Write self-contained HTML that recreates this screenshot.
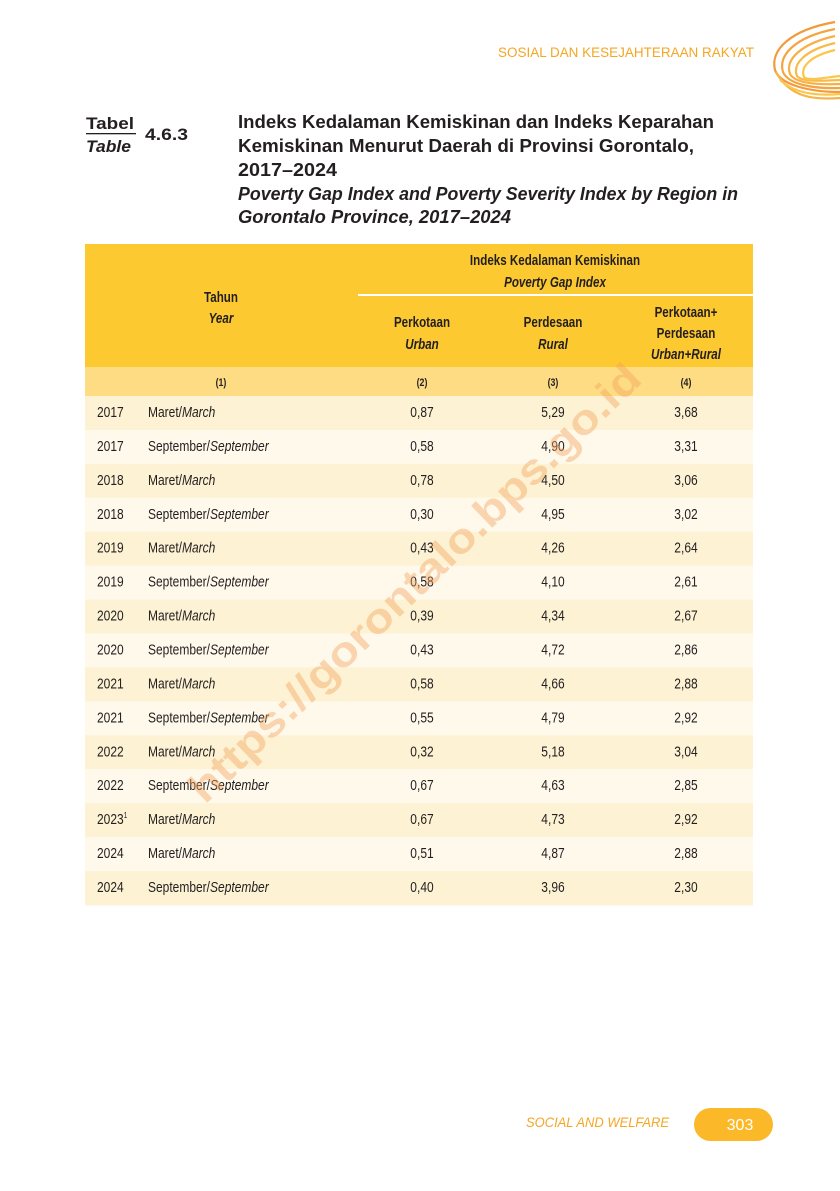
<!DOCTYPE html>
<html><head><meta charset="utf-8">
<style>
html,body{margin:0;padding:0;background:#fff;}
body{width:840px;height:1191px;overflow:hidden;position:relative;font-family:"Liberation Sans",sans-serif;}
svg{position:absolute;left:0;top:0;}
</style></head>
<body>
<svg id="pg" width="840" height="1191" viewBox="0 0 840 1191" font-family="Liberation Sans, sans-serif">
  <g fill="none" stroke-width="2.2">
    <path d="M835 22 C790 30 770 50 775 70 C780 85 810 92 840 92" stroke="#f39a3a"/>
    <path d="M835 29 C795 37 778 55 783 72 C788 84 812 89 840 88" stroke="#f5a540"/>
    <path d="M835 36 C800 44 785 60 790 74 C795 83 815 85 840 84" stroke="#f7b045"/>
    <path d="M835 43 C805 50 792 64 797 76 C802 82 818 81 840 80" stroke="#f9bb48"/>
    <path d="M835 50 C810 56 800 67 804 77 C808 81 822 78 840 76" stroke="#fbc64c"/>
    <path d="M776 72 C790 98 815 100 840 98" stroke="#f6b347"/>
    <path d="M780 80 C795 94 818 96 840 94" stroke="#fbc64c"/>
  </g>
  <text x="754" y="57" text-anchor="end" font-size="13.5" fill="#f5a623" textLength="256" lengthAdjust="spacingAndGlyphs">SOSIAL DAN KESEJAHTERAAN RAKYAT</text>

  <g font-weight="bold" fill="#231f20">
    <text x="86" y="129" font-size="17" textLength="48" lengthAdjust="spacingAndGlyphs">Tabel</text>
    <rect x="86" y="133" width="50" height="1.3" fill="#231f20"/>
    <text x="86" y="152" font-size="17" font-style="italic" textLength="45" lengthAdjust="spacingAndGlyphs">Table</text>
    <text x="145" y="140" font-size="17" textLength="43" lengthAdjust="spacingAndGlyphs">4.6.3</text>
  </g>
  <g font-weight="bold" fill="#231f20" font-size="18">
    <text x="238" y="128" textLength="476" lengthAdjust="spacingAndGlyphs">Indeks Kedalaman Kemiskinan dan Indeks Keparahan</text>
    <text x="238" y="152" textLength="456" lengthAdjust="spacingAndGlyphs">Kemiskinan Menurut Daerah di Provinsi Gorontalo,</text>
    <text x="238" y="176" textLength="99" lengthAdjust="spacingAndGlyphs">2017–2024</text>
    <text x="238" y="200" font-style="italic" textLength="500" lengthAdjust="spacingAndGlyphs">Poverty Gap Index and Poverty Severity Index by Region in</text>
    <text x="238" y="223" font-style="italic" textLength="273" lengthAdjust="spacingAndGlyphs">Gorontalo Province, 2017–2024</text>
  </g>

  <g id="tbl">
    <rect x="85" y="244" width="668" height="123" fill="#fdc930"/>
    <rect x="358" y="294" width="395" height="2" fill="#ffffff"/>
    <rect x="85" y="367" width="668" height="29" fill="#fedc84"/>
    <g id="hdr" font-weight="bold" fill="#231f20" font-size="14.5" text-anchor="middle">
      <text x="555" y="265">Indeks Kedalaman Kemiskinan</text>
      <text x="555" y="287" font-style="italic">Poverty Gap Index</text>
      <text x="221" y="302">Tahun</text>
      <text x="221" y="323" font-style="italic">Year</text>
      <text x="422" y="327">Perkotaan</text>
      <text x="422" y="349" font-style="italic">Urban</text>
      <text x="553" y="327">Perdesaan</text>
      <text x="553" y="349" font-style="italic">Rural</text>
      <text x="686" y="317">Perkotaan+</text>
      <text x="686" y="338">Perdesaan</text>
      <text x="686" y="359" font-style="italic">Urban+Rural</text>
    </g>
    <g id="nums" font-weight="bold" fill="#231f20" font-size="11" text-anchor="middle">
      <text x="221" y="386">(1)</text><text x="422" y="386">(2)</text><text x="553" y="386">(3)</text><text x="686" y="386">(4)</text>
    </g>
  </g>

  <text x="0" y="0" transform="translate(205,805) rotate(-44)" font-weight="bold" font-size="42" fill="#f3a35a" fill-opacity="0.42" textLength="610" lengthAdjust="spacingAndGlyphs">https://gorontalo.bps.go.id</text>

  <text x="669" y="1127" text-anchor="end" font-style="italic" font-size="14" fill="#f5a623" textLength="143" lengthAdjust="spacingAndGlyphs">SOCIAL AND WELFARE</text>
  <rect x="694" y="1108" width="79" height="33" rx="16.5" fill="#fbb829"/>
  <text x="740" y="1130" text-anchor="middle" font-size="16" fill="#fff">303</text>
</svg>
<script>
const years = ["2017","2017","2018","2018","2019","2019","2020","2020","2021","2021","2022","2022","2023","2024","2024"];
const periodsId = ["Maret","September","Maret","September","Maret","September","Maret","September","Maret","September","Maret","September","Maret","Maret","September"];
const periodsEn = ["March","September","March","September","March","September","March","September","March","September","March","September","March","March","September"];
const urban = ["0,87","0,58","0,78","0,30","0,43","0,58","0,39","0,43","0,58","0,55","0,32","0,67","0,67","0,51","0,40"];
const rural = ["5,29","4,90","4,50","4,95","4,26","4,10","4,34","4,72","4,66","4,79","5,18","4,63","4,73","4,87","3,96"];
const total = ["3,68","3,31","3,06","3,02","2,64","2,61","2,67","2,86","2,88","2,92","3,04","2,85","2,92","2,88","2,30"];
const footnoted = [false,false,false,false,false,false,false,false,false,false,false,false,true,false,false];

const NS = "http://www.w3.org/2000/svg";
const tbl = document.getElementById("tbl");
const SX = 0.8;
const top0 = 396, rowH = 33.93;
function rowY(i){ return top0 + i*rowH; }
function mk(tag, attrs){ const e=document.createElementNS(NS,tag); for(const k in attrs) e.setAttribute(k,attrs[k]); return e; }
function squeeze(t){ const x=+t.getAttribute('x'); t.setAttribute('transform','translate('+x+',0) scale('+SX+',1) translate('+(-x)+',0)'); }
document.querySelectorAll('#hdr text, #nums text').forEach(squeeze);
years.forEach((y,i)=>{
  const g = mk("g",{});
  
  
  const bg = mk("rect",{x:85,y:rowY(i),width:668,height:rowH+0.5,fill:(i%2===0)?"#fdf2d3":"#fef9eb"});
  
  
  g.appendChild(bg);
  const by = rowY(i)+21;
  const t1 = mk("text",{x:97,y:by,"font-size":15,fill:"#231f20"});
  t1.textContent = y;
  if(footnoted[i]){ const s=mk("tspan",{"font-size":8,dy:-6}); s.textContent="1"; t1.appendChild(s); }
  
  
  squeeze(t1);
  g.appendChild(t1);
  const t2 = mk("text",{x:148,y:by,"font-size":15,fill:"#231f20"});
  const a = mk("tspan",{}); a.textContent = periodsId[i]+"/";
  const b = mk("tspan",{"font-style":"italic"}); b.textContent = periodsEn[i];
  t2.appendChild(a); t2.appendChild(b);
  
  
  squeeze(t2);
  g.appendChild(t2);
  [[urban,422,'urban-cell'],[rural,553,'rural-cell'],[total,686,'total-cell']].forEach(([arr,x,nm])=>{
    const t = mk("text",{x:x,y:by,"font-size":15,fill:"#231f20","text-anchor":"middle"});
    t.textContent = arr[i];
    
    
    squeeze(t);
    g.appendChild(t);
  });
  tbl.appendChild(g);
});
</script>
</body></html>
